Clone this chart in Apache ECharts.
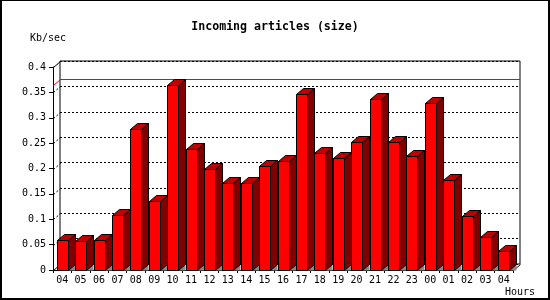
<!DOCTYPE html>
<html>
<head>
<meta charset="utf-8">
<script src="https://cdn.jsdelivr.net/npm/echarts@6/dist/echarts.min.js"></script>
<style>html,body{margin:0;padding:0;background:#fff}#c{width:550px;height:300px}</style>
</head>
<body>
<div id="c"></div>
<script>
const hours = ['04','05','06','07','08','09','10','11','12','13','14','15','16','17','18','19','20','21','22','23','00','01','02','03','04'];
const sizeKbSec = [0.0585,0.0565,0.0585,0.1075,0.278,0.135,0.3645,0.238,0.199,0.171,0.171,0.204,0.214,0.346,0.230,0.220,0.2515,0.336,0.2515,0.224,0.3285,0.1767,0.1057,0.0644,0.0368];
const yTicks = [0,0.05,0.1,0.15,0.2,0.25,0.3,0.35,0.4];
const titleText = 'Incoming articles (size)';
const yName = 'Kb/sec';
const xName = 'Hours';

const DX = 7, DY = 6;
const FONT = 'DejaVu Sans Mono';
const chart = echarts.init(document.getElementById('c'), null, {renderer: 'canvas'});
const maxV = Math.max(...sizeKbSec);

const option = {
  animation: false,
  backgroundColor: '#fff',
  color: ['#ff0000'],
  grid: [
    {left: 53, right: 37, top: 67, bottom: 30, show: false},
    {left: 60, right: 30, top: 61, bottom: 36, show: true, borderColor: '#000', borderWidth: 1, backgroundColor: 'transparent'}
  ],
  xAxis: [
    {type: 'category', gridIndex: 0, data: hours, boundaryGap: true,
     axisLine: {lineStyle: {color: '#000', width: 1}},
     axisTick: {show: true, length: 3, interval: 0, lineStyle: {color: '#000'}},
     axisLabel: {interval: 0, margin: 5, color: '#000', fontFamily: FONT, fontSize: 10},
     splitLine: {show: false}},
    {type: 'category', gridIndex: 1, data: hours, show: false}
  ],
  yAxis: [
    {type: 'value', gridIndex: 0, min: 0, max: 0.4, interval: 0.05,
     axisLine: {show: true, lineStyle: {color: '#000', width: 1}},
     axisTick: {show: true, length: 4, lineStyle: {color: '#000'}},
     axisLabel: {margin: 7, color: '#000', fontFamily: FONT, fontSize: 10},
     splitLine: {show: false}},
    {type: 'value', gridIndex: 1, min: 0, max: 0.4, interval: 0.05,
     axisLine: {show: false}, axisTick: {show: false}, axisLabel: {show: false},
     splitLine: {show: true, lineStyle: {color: '#000', type: [2, 2], width: 1}}}
  ],
  graphic: [
    {type: 'text', left: 'center', top: 21, style: {text: titleText, font: 'bold 11.6px "DejaVu Sans Mono"', fill: '#000'}},
    {type: 'text', x: 30, y: 38, style: {text: yName, font: '10px "DejaVu Sans Mono"', fill: '#000', textVerticalAlign: 'middle'}},
    {type: 'text', x: 505, y: 292, style: {text: xName, font: '10px "DejaVu Sans Mono"', fill: '#000', textVerticalAlign: 'middle'}},
    {type: 'rect', shape: {x: 0, y: 0, width: 2, height: 300}, style: {fill: '#000'}},
    {type: 'rect', shape: {x: 0, y: 0, width: 550, height: 1}, style: {fill: '#000'}},
    {type: 'rect', shape: {x: 548, y: 0, width: 2, height: 300}, style: {fill: '#000'}},
    {type: 'rect', shape: {x: 0, y: 298, width: 550, height: 2}, style: {fill: '#000'}}
  ],
  series: [
    {
      type: 'custom', xAxisIndex: 0, yAxisIndex: 0, z: 1, silent: true,
      data: yTicks.map(v => [0, v]),
      renderItem(params, api) {
        const cs = params.coordSys;
        const v = api.value(1);
        const y = Math.round(api.coord([0, v])[1]) + 0.5;
        const x = cs.x + 0.5;
        const solid = (v === 0 || v === yTicks[yTicks.length - 1]);
        const children = [{type: 'line', shape: {x1: x, y1: y, x2: x + DX, y2: y - DY},
          style: {stroke: '#000', lineWidth: 1, lineDash: solid ? null : [2, 2]}}];
        if (v === 0) {
          const xr = cs.x + cs.width + 0.5;
          children.push({type: 'line', shape: {x1: xr, y1: y, x2: xr + DX, y2: y - DY}, style: {stroke: '#000', lineWidth: 1}});
        }
        return {type: 'group', children};
      }
    },
    {
      type: 'custom', xAxisIndex: 0, yAxisIndex: 0, z: 2, silent: true,
      data: [[0, maxV]],
      renderItem(params, api) {
        const cs = params.coordSys;
        const y = Math.round(api.coord([0, api.value(1)])[1]);
        const x = cs.x;
        return {type: 'group', children: [
          {type: 'line', shape: {x1: x + 0.5, y1: y + 0.5, x2: x + DX + 0.5, y2: y - DY + 0.5}, style: {stroke: '#ff0000', lineWidth: 1}},
          {type: 'rect', shape: {x: x + DX, y: y - DY, width: cs.width, height: 1}, style: {fill: '#ff0000', stroke: null}}
        ]};
      }
    },
    {
      type: 'custom', xAxisIndex: 0, yAxisIndex: 0, z: 3, silent: true,
      data: sizeKbSec.map((v, i) => [i, v]),
      encode: {x: 0, y: 1},
      renderItem(params, api) {
        const i = api.value(0), v = api.value(1);
        const top = api.coord([i, v]);
        const base = api.coord([i, 0]);
        const w = 11;
        const x0 = Math.round(top[0] - w / 2) + 0.5;
        const x1 = x0 + w;
        const yT = Math.round(top[1]) + 0.5;
        const yB = Math.round(base[1]) + 0.5;
        return {type: 'group', children: [
          {type: 'polygon', shape: {points: [[x1, yB], [x1 + DX, yB - DY], [x1 + DX, yB]]}, style: {fill: '#8a8a8a', stroke: null}},
          {type: 'polygon', shape: {points: [[x1, yT], [x1 + DX, yT - DY], [x1 + DX, yB - DY], [x1, yB]]}, style: {fill: '#800000', stroke: '#000', lineWidth: 1}},
          {type: 'polygon', shape: {points: [[x0, yT], [x0 + DX, yT - DY], [x1 + DX, yT - DY], [x1, yT]]}, style: {fill: '#c00000', stroke: '#000', lineWidth: 1}},
          {type: 'rect', shape: {x: x0, y: yT, width: w, height: yB - yT}, style: {fill: '#ff0000', stroke: '#000', lineWidth: 1}}
        ]};
      }
    }
  ]
};
chart.setOption(option);
</script>
</body>
</html>
